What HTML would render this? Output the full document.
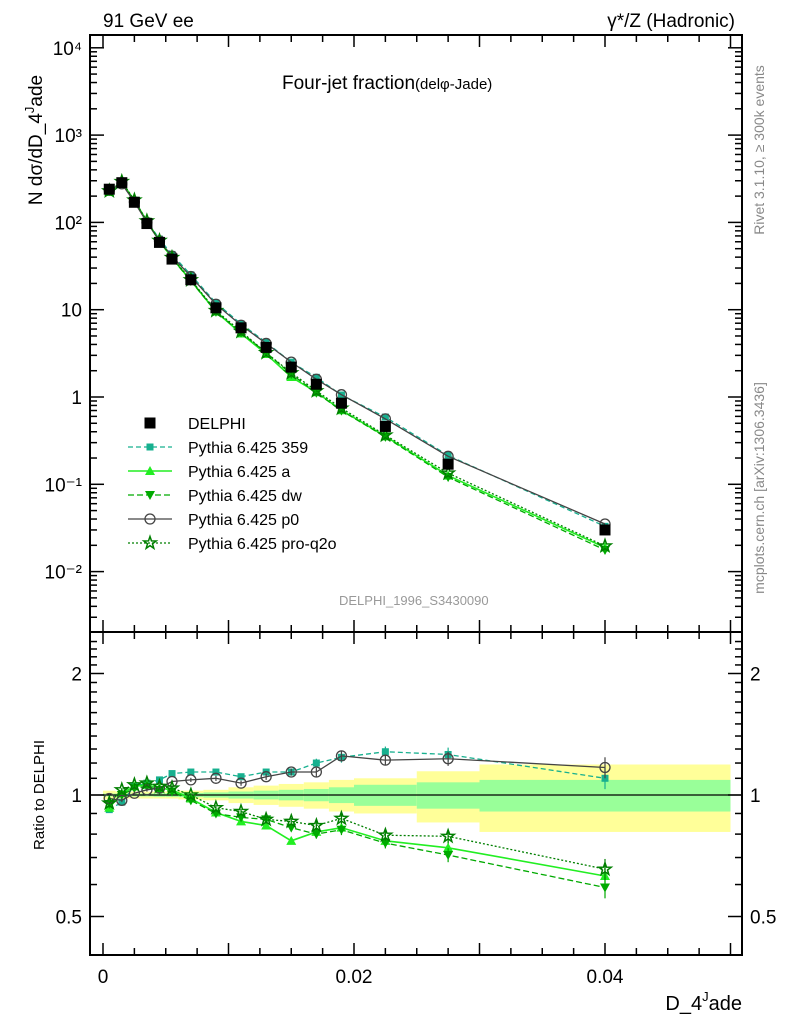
<!DOCTYPE html>
<html><head><meta charset="utf-8"><style>
body{margin:0;background:#fff}
svg{font-family:"Liberation Sans",sans-serif}
</style></head><body>
<svg id="c" width="786" height="1024" viewBox="0 0 786 1024" xmlns="http://www.w3.org/2000/svg">
<text x="103" y="27" font-size="19">91 GeV ee</text>
<text x="735" y="27" font-size="19" text-anchor="end">γ*/Z (Hadronic)</text>
<text x="282" y="89" font-size="19">Four-jet fraction<tspan font-size="15">(delφ-Jade)</tspan></text>
<text x="339" y="605" font-size="13" fill="#999">DELPHI_1996_S3430090</text>
<text transform="translate(764,150) rotate(-90)" font-size="14" fill="#888" text-anchor="middle">Rivet 3.1.10, ≥ 300k events</text>
<text transform="translate(764,488) rotate(-90)" font-size="14" fill="#888" text-anchor="middle">mcplots.cern.ch [arXiv:1306.3436]</text>
<text transform="translate(42,140) rotate(-90)" font-size="19" text-anchor="middle">N dσ/dD_4<tspan font-size="13" dy="-8">J</tspan><tspan dy="8">ade</tspan></text>
<text transform="translate(44,795) rotate(-90)" font-size="15" text-anchor="middle">Ratio to DELPHI</text>
<text x="742" y="1010" font-size="20" text-anchor="end">D_4<tspan font-size="13" dy="-9">J</tspan><tspan dy="9">ade</tspan></text>
<g id="g"></g>
</svg>
<script>
const xs=[0.0005,0.0015,0.0025,0.0035,0.0045,0.0055,0.007,0.009,0.011,0.013,0.015,0.017,0.019,0.0225,0.0275,0.04];
const edges=[0,0.001,0.002,0.003,0.004,0.005,0.006,0.008,0.01,0.012,0.014,0.016,0.018,0.02,0.025,0.03,0.05];
const delphi=[240,285,170,97,59,38,22,10.5,6.2,3.7,2.2,1.4,0.85,0.46,0.17,0.030];
const r359=[0.92,0.96,1.05,1.07,1.09,1.13,1.14,1.14,1.11,1.14,1.14,1.20,1.24,1.28,1.26,1.10];
const rA=[0.93,1.01,1.05,1.06,1.04,1.03,0.98,0.905,0.86,0.84,0.77,0.81,0.83,0.77,0.74,0.63];
const rDW=[0.95,1.0,1.04,1.05,1.03,1.02,0.97,0.90,0.88,0.87,0.83,0.80,0.82,0.76,0.71,0.59];
const rP0=[0.98,0.97,1.01,1.03,1.04,1.08,1.09,1.10,1.07,1.11,1.14,1.14,1.25,1.22,1.23,1.17];
const rQ2O=[0.955,1.03,1.06,1.07,1.05,1.04,1.0,0.93,0.91,0.87,0.86,0.84,0.875,0.795,0.79,0.655];
const statErr=[0.008,0.008,0.008,0.008,0.01,0.01,0.012,0.015,0.02,0.025,0.03,0.035,0.045,0.06,0.075,0.09];
const totErr=[0.025,0.02,0.02,0.02,0.02,0.02,0.025,0.03,0.045,0.055,0.065,0.075,0.09,0.10,0.145,0.19];
const mcErr=[0.01,0.01,0.01,0.01,0.01,0.01,0.012,0.015,0.015,0.018,0.02,0.025,0.03,0.03,0.04,0.06];
const yTopLabels=["10⁻²","10⁻¹","1","10","10²","10³","10⁴"];
const xTickLabels=["0","0.02","0.04"];

const NS="http://www.w3.org/2000/svg",G=document.getElementById('g');
const L=90,R=742,T1=35,B1=632,T2=632,B2=955;
const X=v=>103+v*12550;
const Y1=v=>397-87.3*Math.log10(v);
const Y2=v=>795-121.5*Math.log2(v);
function el(t,a,p){const e=document.createElementNS(NS,t);for(const k in a)e.setAttribute(k,a[k]);(p||G).appendChild(e);return e;}
const bandG=el('g',{});


for(let i=0;i<xs.length;i++){
 const x0=X(edges[i]),x1=X(edges[i+1]);
 const y=el('rect',{x:x0,y:Y2(1+totErr[i]),width:x1-x0,height:Y2(1-totErr[i])-Y2(1+totErr[i]),fill:'#ffff99'},bandG);
 
 
 const g2=el('rect',{x:x0,y:Y2(1+statErr[i]),width:x1-x0,height:Y2(1-statErr[i])-Y2(1+statErr[i]),fill:'#99ff99'},bandG);
 
 
}
el('line',{x1:L,x2:R,y1:Y2(1),y2:Y2(1),stroke:'#000','stroke-width':1.2});
for(const [t,b] of [[T1,B1],[T2,B2]]){const f=el('rect',{x:L,y:t,width:R-L,height:b-t,fill:'none',stroke:'#000','stroke-width':2});
 
 }
for(let v=0;v<=0.0505;v+=0.0025){const m=Math.round(v*10000)%100===0;const x=X(v),len=m?12:7;
 for(const [t,b] of [[T1,B1],[T2,B2]]){el('line',{x1:x,x2:x,y1:b,y2:b-len,stroke:'#000','stroke-width':1.5});el('line',{x1:x,x2:x,y1:t,y2:t+len,stroke:'#000','stroke-width':1.5});}}
xTickLabels.forEach((s,i)=>{const t=el('text',{x:X(i*0.02),y:983,'font-size':19,'text-anchor':'middle'});t.textContent=s;
 
 });
for(let d=-3;d<=4;d++){for(let k=1;k<10;k++){const v=k*Math.pow(10,d);const y=Y1(v);if(y<T1||y>B1)continue;const len=k==1?14:7;
 el('line',{x1:L,x2:L+len,y1:y,y2:y,stroke:'#000','stroke-width':1.5});el('line',{x1:R,x2:R-len,y1:y,y2:y,stroke:'#000','stroke-width':1.5});}}
yTopLabels.forEach((s,i)=>{const t=el('text',{x:82,y:Y1(Math.pow(10,i-2))+7,'font-size':19,'text-anchor':'end'});t.textContent=s;
 
 });
for(let v=0.4;v<=2.5;v+=0.1){const y=Y2(v);if(y<T2||y>B2)continue;const major=Math.abs(v-0.5)<1e-6||Math.abs(v-1)<1e-6||Math.abs(v-2)<1e-6;const len=major?14:7;
 el('line',{x1:L,x2:L+len,y1:y,y2:y,stroke:'#000','stroke-width':1.5});el('line',{x1:R,x2:R-len,y1:y,y2:y,stroke:'#000','stroke-width':1.5});}
[["2",2],["1",1],["0.5",0.5]].forEach(([s,v])=>{for(const [x,a] of [[82,'end'],[750,'start']]){const t=el('text',{x:x,y:Y2(v)+7,'font-size':19,'text-anchor':a});t.textContent=s;
 
 }});
function marker(p,type,x,y,c){
 if(type=='sq')el('rect',{x:x-5.5,y:y-5.5,width:11,height:11,fill:c},p);
 else if(type=='ssq')el('rect',{x:x-3.5,y:y-3.5,width:7,height:7,fill:c},p);
 else if(type=='tu')el('polygon',{points:`${x},${y-5} ${x-5},${y+4} ${x+5},${y+4}`,fill:c},p);
 else if(type=='td')el('polygon',{points:`${x},${y+5} ${x-5},${y-4} ${x+5},${y-4}`,fill:c},p);
 else if(type=='oc')el('circle',{cx:x,cy:y,r:5,fill:'none',stroke:c,'stroke-width':1.3},p);
 else if(type=='st'){let pts=[];for(let k=0;k<10;k++){const r=k%2?2.6:6.5,a=-Math.PI/2+k*Math.PI/5;pts.push((x+r*Math.cos(a)).toFixed(1)+','+(y+r*Math.sin(a)).toFixed(1));}
  el('polygon',{points:pts.join(' '),fill:'none',stroke:c,'stroke-width':1.5},p);}
}
const series=[
 {name:'Pythia 6.425 359',r:r359,c:'#17b08f',dash:'5,3',m:'ssq',w:1.3},
 {name:'Pythia 6.425 a',r:rA,c:'#22ee22',dash:'',m:'tu',w:1.6},
 {name:'Pythia 6.425 dw',r:rDW,c:'#00aa00',dash:'6,3',m:'td',w:1.3},
 {name:'Pythia 6.425 p0',r:rP0,c:'#444',dash:'',m:'oc',w:1.3},
 {name:'Pythia 6.425 pro-q2o',r:rQ2O,c:'#007f00',dash:'2,2',m:'st',w:1.3}];
series.forEach(s=>{
 const g=el('g',{});
 
 
 const top=xs.map((x,i)=>X(x)+','+Y1(delphi[i]*s.r[i])).join(' ');
 el('polyline',{points:top,fill:'none',stroke:s.c,'stroke-width':s.w,'stroke-dasharray':s.dash},g);
 const bot=xs.map((x,i)=>X(x)+','+Y2(s.r[i])).join(' ');
 el('polyline',{points:bot,fill:'none',stroke:s.c,'stroke-width':s.w,'stroke-dasharray':s.dash},g);
 xs.forEach((x,i)=>{
  el('line',{x1:X(x),x2:X(x),y1:Y2(s.r[i]*(1+mcErr[i])),y2:Y2(s.r[i]*(1-mcErr[i])),stroke:s.c,'stroke-width':1.2},g);
  marker(g,s.m,X(x),Y1(delphi[i]*s.r[i]),s.c);
  marker(g,s.m,X(x),Y2(s.r[i]),s.c);});
});
const dg=el('g',{});


xs.forEach((x,i)=>marker(dg,'sq',X(x),Y1(delphi[i]),'#000'));
const lg=el('g',{});


[{name:'DELPHI',m:'sq',c:'#000',dash:null}].concat(series).forEach((s,i)=>{
 const y=423+i*24;
 if(s.dash!==null)el('line',{x1:128,x2:172,y1:y,y2:y,stroke:s.c,'stroke-width':s.w,'stroke-dasharray':s.dash},lg);
 marker(lg,s.m,150,y,s.c);
 const t=el('text',{x:188,y:y+6,'font-size':16},lg);t.textContent=s.name;
 
 
});
</script>
</body></html>
